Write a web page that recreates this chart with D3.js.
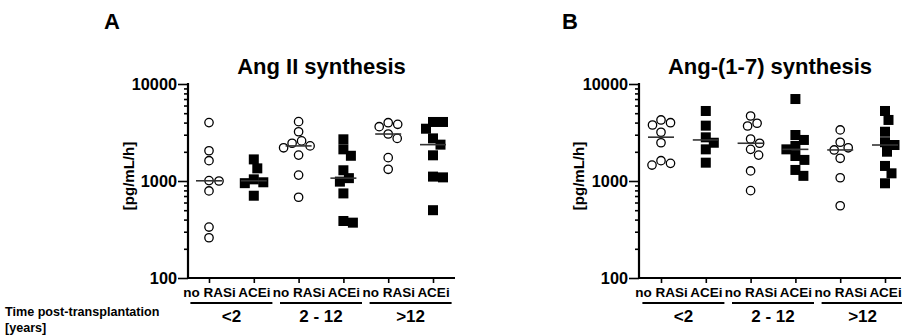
<!DOCTYPE html>
<html>
<head>
<meta charset="utf-8">
<script src="https://cdn.jsdelivr.net/npm/d3@7"></script>
<style>
  body { margin: 0; background: #fff; }
  svg text { font-family: "Liberation Sans", Arial, sans-serif; font-weight: bold; fill: #000; }
</style>
</head>
<body>
<div id="my_dataviz"></div>
<script>
// categories and groups
var categories = ["no RASi", "ACEi", "no RASi", "ACEi", "no RASi", "ACEi"];
var groups = ["<2", "2 - 12", ">12"];
var yTicks = [100, 1000, 10000];

// Ang II synthesis [pg/mL/h]
var angII_lt2_none  = [4000, 2050, 1620, 1000, 1010, 790, 335, 260];
var angII_lt2_acei  = [1350, 1040, 1670, 950, 970, 705];
var angII_mid_none  = [4090, 3220, 2590, 2450, 2300, 2200, 1850, 1150, 680];
var angII_mid_acei  = [2690, 2120, 1820, 1290, 1070, 985, 745, 387, 372];
var angII_gt12_none = [3990, 3840, 3630, 3050, 2750, 1740, 1320];
var angII_gt12_acei = [4060, 4060, 3460, 2750, 2370, 1840, 1110, 1090, 500];

// Ang-(1-7) synthesis [pg/mL/h]
var ang17_lt2_none  = [4260, 3990, 3780, 3180, 2480, 1620, 1520, 1460];
var ang17_lt2_acei  = [5270, 3720, 2820, 2480, 2120, 1545];
var ang17_mid_none  = [4680, 3940, 3690, 2710, 2450, 2120, 1850, 1270, 795];
var ang17_mid_acei  = [7000, 2980, 2650, 2300, 2120, 1810, 1650, 1300, 1130];
var ang17_gt12_none = [3360, 2510, 2200, 2090, 1715, 1080, 556];
var ang17_gt12_acei = [5270, 4260, 3220, 2510, 2350, 2005, 1430, 1200, 947];

var panels = [
  { letter: "A", title: "Ang II synthesis", x0: 188, x1: 455, c0: 209, c1: 433, letterX: 104, labelX: 130,
    series: [angII_lt2_none, angII_lt2_acei, angII_mid_none, angII_mid_acei, angII_gt12_none, angII_gt12_acei] },
  { letter: "B", title: "Ang-(1-7) synthesis", x0: 639, x1: 901, c0: 661, c1: 885, letterX: 562, labelX: 580,
    series: [ang17_lt2_none, ang17_lt2_acei, ang17_mid_none, ang17_mid_acei, ang17_gt12_none, ang17_gt12_acei] }
];

var W = 902, H = 335;
var yTop = 84, yBottom = 278;

var svg = d3.select("#my_dataviz")
  .append("svg")
    .attr("width", W)
    .attr("height", H);

// simple beeswarm: place each point as close to the centre as it can go
function swarm(vals, y, D) {
  var pts = vals.map(function(v) { return { v: v, y: y(v), dx: 0 }; })
    .sort(function(a, b) { return a.y - b.y; });
  var placed = [];
  pts.forEach(function(p) {
    for (var k = 0; k < 60; k += 0.5) {
      var cands = k === 0 ? [0] : [k, -k];
      var ok = null;
      for (var c = 0; c < cands.length; c++) {
        var dx = cands[c];
        var hit = placed.some(function(q) {
          var a = q.dx - dx, b = q.y - p.y;
          return a * a + b * b < D * D;
        });
        if (!hit) { ok = dx; break; }
      }
      if (ok !== null) { p.dx = ok; break; }
    }
    placed.push(p);
  });
  return pts;
}

panels.forEach(function(P) {
  var g = svg.append("g");

  var y = d3.scaleLog().domain([100, 10000]).range([yBottom, yTop]);
  var x = d3.scalePoint().domain(d3.range(categories.length)).range([P.c0, P.c1]);

  // panel letter + title
  g.append("text").attr("x", P.letterX).attr("y", 29)
    .style("font-size", "22px").text(P.letter);
  g.append("text").attr("x", (P.x0 + P.x1) / 2).attr("y", 74)
    .attr("text-anchor", "middle").style("font-size", "22px").text(P.title);

  // y axis label
  g.append("text")
    .attr("transform", "translate(" + (P.labelX + 4) + "," + 176 + ") rotate(-90)")
    .attr("text-anchor", "middle").style("font-size", "15px").text("[pg/mL/h]");

  // y axis (log) with minor ticks
  var minor = [];
  [100, 1000].forEach(function(d) { for (var i = 2; i <= 9; i++) minor.push(d * i); });
  var yAx = g.append("g").attr("transform", "translate(" + P.x0 + ",0)");
  yAx.call(d3.axisLeft(y).tickValues(minor).tickSize(4).tickFormat(""))
    .call(function(s) { s.select(".domain").remove(); });
  yAx.append("g")
    .call(d3.axisLeft(y).tickValues(yTicks).tickSize(10).tickPadding(1).tickFormat(d3.format("d")))
    .call(function(s) { s.select(".domain").remove(); });
  yAx.selectAll("line").attr("stroke", "#000").attr("stroke-width", 1.6);
  yAx.selectAll("text").style("font-size", "16.3px").style("font-family", "Liberation Sans, Arial")
    .style("font-weight", "bold").attr("fill", "#000");
  g.append("line").attr("x1", P.x0).attr("x2", P.x0).attr("y1", yTop - 1).attr("y2", yBottom + 1)
    .attr("stroke", "#000").attr("stroke-width", 2.2);

  // x axis
  var xAx = g.append("g").attr("transform", "translate(0," + yBottom + ")");
  xAx.call(d3.axisBottom(x).tickSize(5).tickPadding(4).tickFormat(function(i) { return categories[i]; }))
    .call(function(s) { s.select(".domain").remove(); });
  xAx.selectAll("line").attr("stroke", "#000").attr("stroke-width", 1.6);
  xAx.selectAll("text").style("font-size", "13.5px").style("font-family", "Liberation Sans, Arial")
    .style("font-weight", "bold").attr("fill", "#000");
  g.append("line").attr("x1", P.x0 - 1).attr("x2", P.x1).attr("y1", yBottom).attr("y2", yBottom)
    .attr("stroke", "#000").attr("stroke-width", 2.2);

  // group lines + labels
  groups.forEach(function(lab, gi) {
    var cx = (x(gi * 2) + x(gi * 2 + 1)) / 2;
    g.append("line").attr("x1", cx - 41).attr("x2", cx + 41).attr("y1", 303).attr("y2", 303)
      .attr("stroke", "#000").attr("stroke-width", 1.8);
    g.append("text").attr("x", cx).attr("y", 322).attr("text-anchor", "middle")
      .style("font-size", "17px").text(lab);
  });

  // points + median lines
  P.series.forEach(function(vals, i) {
    var cx = x(i);
    var pts = swarm(vals, y, 9.6);
    var filled = categories[i] === "ACEi";
    if (filled) {
      g.selectAll(null).data(pts).enter().append("rect")
        .attr("x", function(d) { return cx + d.dx - 5; })
        .attr("y", function(d) { return d.y - 5; })
        .attr("width", 10).attr("height", 10)
        .attr("fill", "#000");
    } else {
      g.selectAll(null).data(pts).enter().append("circle")
        .attr("cx", function(d) { return cx + d.dx; })
        .attr("cy", function(d) { return d.y; })
        .attr("r", 4.2)
        .attr("fill", "#fff").attr("stroke", "#000").attr("stroke-width", 1.3);
    }
    var med = d3.median(vals);
    g.append("line").attr("x1", cx - 13).attr("x2", cx + 13)
      .attr("y1", y(med)).attr("y2", y(med))
      .attr("stroke", "#333").attr("stroke-width", 1.6);
  });
});

// bottom-left caption
svg.append("text").attr("x", 5).attr("y", 316).style("font-size", "12.6px").text("Time post-transplantation");
svg.append("text").attr("x", 5).attr("y", 332).style("font-size", "12.6px").text("[years]");
</script>
</body>
</html>
